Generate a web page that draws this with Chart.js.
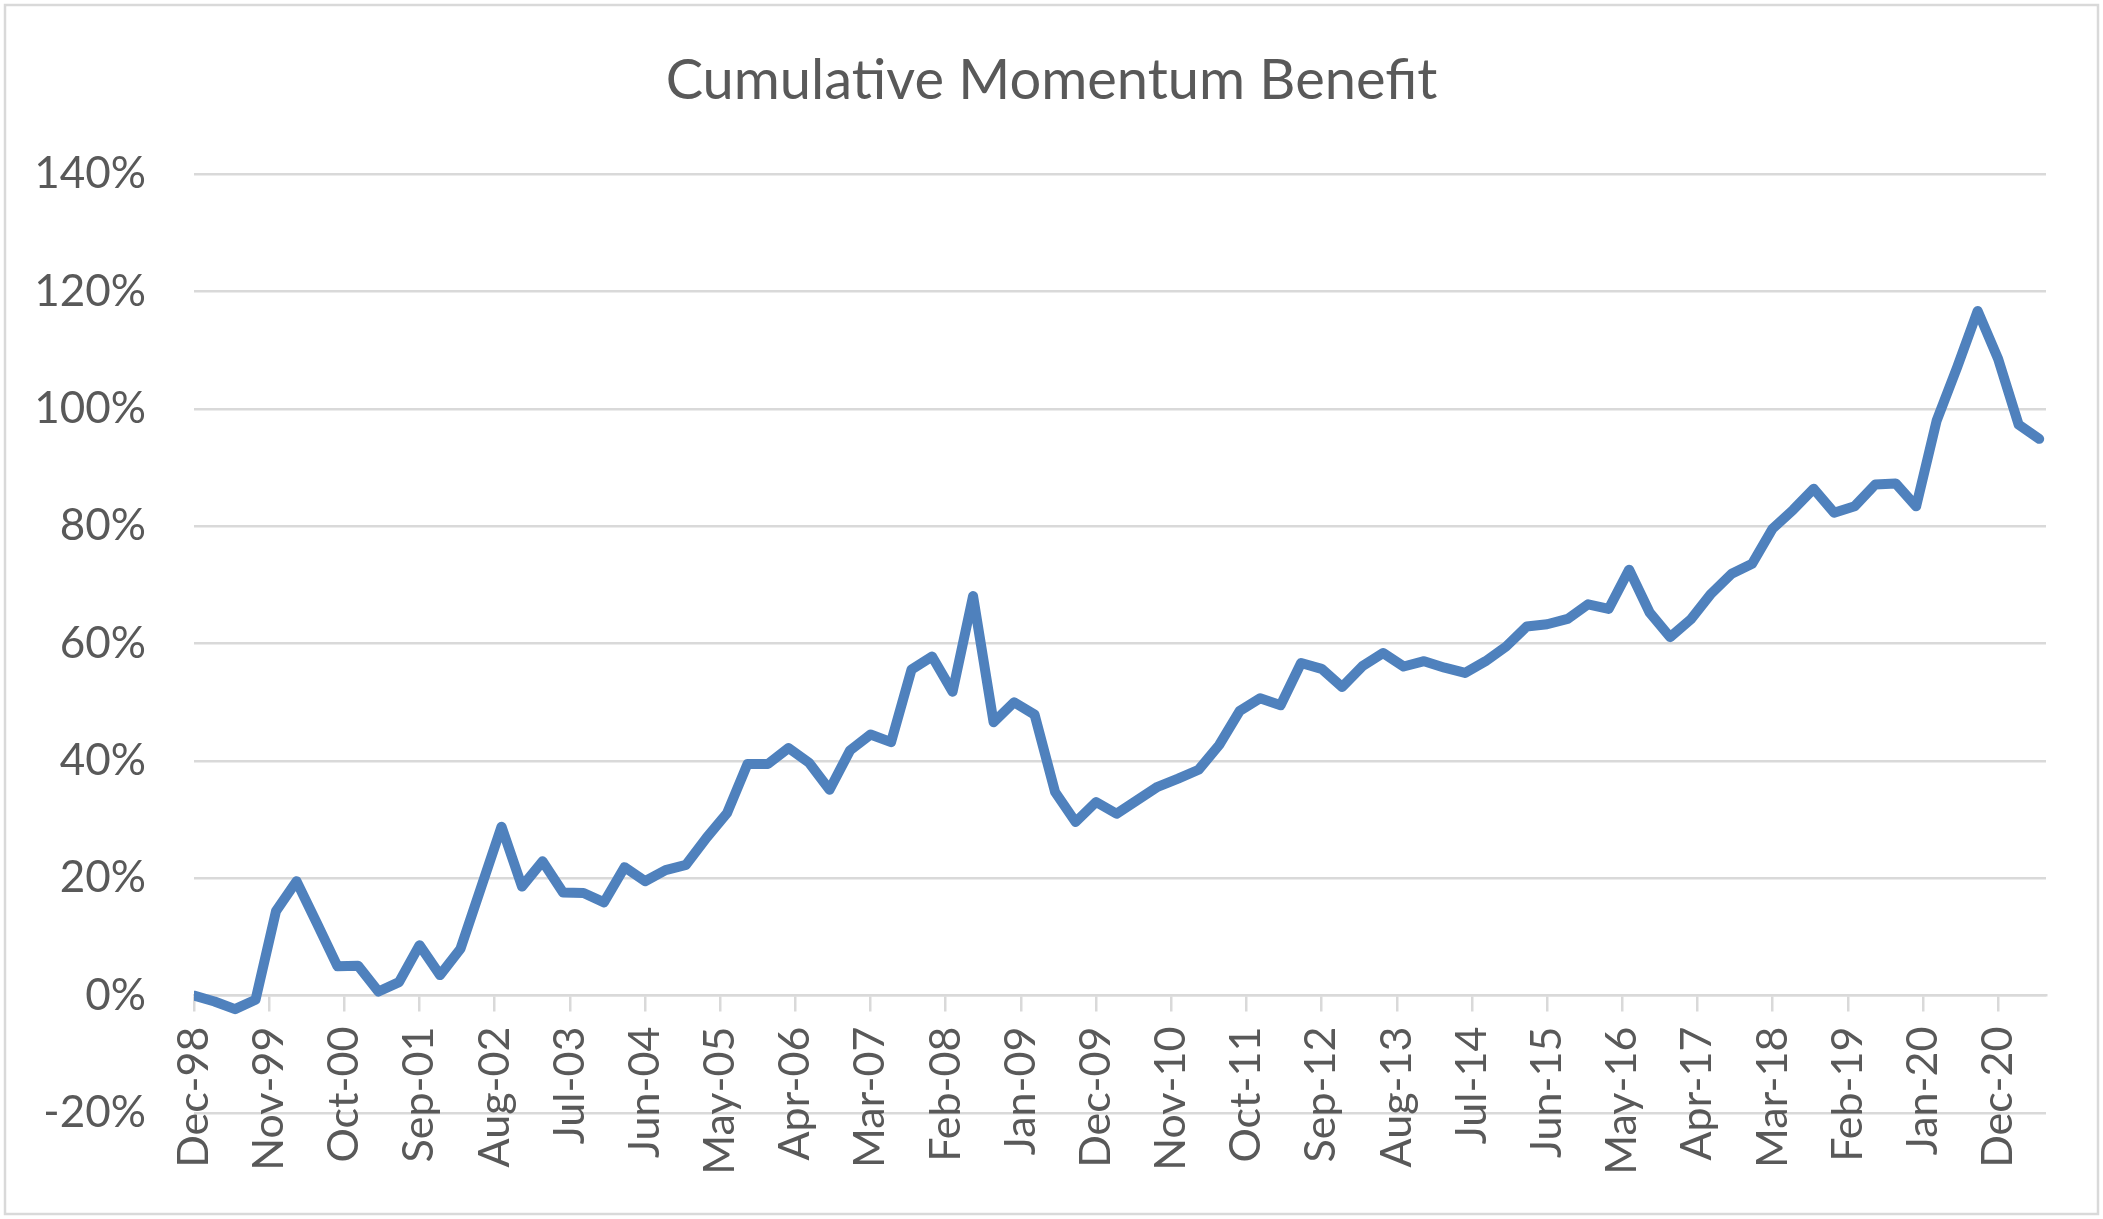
<!DOCTYPE html>
<html>
<head>
<meta charset="utf-8">
<title>Cumulative Momentum Benefit</title>
<script src="https://cdn.jsdelivr.net/npm/chart.js@4.4.1/dist/chart.umd.min.js"></script>
<style>
  html, body { margin: 0; padding: 0; background: #ffffff; overflow: hidden; }
  canvas { display: block; }
</style>
</head>
<body>
<canvas id="momentumChart" width="2103" height="1219"></canvas>
<script>
// --------------------- Data ---------------------
// quarter-end dates of each observation
const quarters = [
  'Dec-98',
  'Mar-99', 'Jun-99', 'Sep-99', 'Dec-99',
  'Mar-00', 'Jun-00', 'Sep-00', 'Dec-00',
  'Mar-01', 'Jun-01', 'Sep-01', 'Dec-01',
  'Mar-02', 'Jun-02', 'Sep-02', 'Dec-02',
  'Mar-03', 'Jun-03', 'Sep-03', 'Dec-03',
  'Mar-04', 'Jun-04', 'Sep-04', 'Dec-04',
  'Mar-05', 'Jun-05', 'Sep-05', 'Dec-05',
  'Mar-06', 'Jun-06', 'Sep-06', 'Dec-06',
  'Mar-07', 'Jun-07', 'Sep-07', 'Dec-07',
  'Mar-08', 'Jun-08', 'Sep-08', 'Dec-08',
  'Mar-09', 'Jun-09', 'Sep-09', 'Dec-09',
  'Mar-10', 'Jun-10', 'Sep-10', 'Dec-10',
  'Mar-11', 'Jun-11', 'Sep-11', 'Dec-11',
  'Mar-12', 'Jun-12', 'Sep-12', 'Dec-12',
  'Mar-13', 'Jun-13', 'Sep-13', 'Dec-13',
  'Mar-14', 'Jun-14', 'Sep-14', 'Dec-14',
  'Mar-15', 'Jun-15', 'Sep-15', 'Dec-15',
  'Mar-16', 'Jun-16', 'Sep-16', 'Dec-16',
  'Mar-17', 'Jun-17', 'Sep-17', 'Dec-17',
  'Mar-18', 'Jun-18', 'Sep-18', 'Dec-18',
  'Mar-19', 'Jun-19', 'Sep-19', 'Dec-19',
  'Mar-20', 'Jun-20', 'Sep-20', 'Dec-20',
  'Mar-21', 'Jun-21'
];

// cumulative momentum benefit, in percent
const momentum = [
  0.0,
  -1.0, -2.3, -0.7, 14.4,
  19.5, 12.3, 5.0, 5.1,
  0.7, 2.3, 8.6, 3.5,
  8.0, 18.4, 28.8, 18.6,
  22.9, 17.6, 17.5, 15.9,
  21.9, 19.5, 21.4, 22.3,
  26.9, 31.1, 39.5, 39.5,
  42.2, 39.7, 35.1, 41.8,
  44.5, 43.2, 55.6, 57.8,
  51.8, 68.1, 46.6, 50.0,
  47.9, 34.7, 29.6, 33.0,
  31.0, 33.3, 35.6, 37.0,
  38.5, 42.7, 48.5, 50.7,
  49.5, 56.7, 55.7, 52.6,
  56.2, 58.4, 56.1, 57.0,
  55.9, 55.0, 57.0, 59.5,
  62.9, 63.3, 64.2, 66.7,
  65.9, 72.6, 65.3, 61.1,
  64.1, 68.5, 71.9, 73.6,
  79.6, 82.8, 86.4, 82.3,
  83.4, 87.1, 87.3, 83.4,
  98.0, 107.1, 116.7, 108.5,
  97.3, 94.9
];

// date labels shown on the horizontal axis (every 11 months)
const tickLabels = [
  'Dec-98', 'Nov-99', 'Oct-00', 'Sep-01', 'Aug-02', 'Jul-03', 'Jun-04',
  'May-05', 'Apr-06', 'Mar-07', 'Feb-08', 'Jan-09', 'Dec-09', 'Nov-10',
  'Oct-11', 'Sep-12', 'Aug-13', 'Jul-14', 'Jun-15', 'May-16', 'Apr-17',
  'Mar-18', 'Feb-19', 'Jan-20', 'Dec-20'
];

// --------------------- Helpers ---------------------
const MONTHS = ['Jan', 'Feb', 'Mar', 'Apr', 'May', 'Jun', 'Jul', 'Aug', 'Sep', 'Oct', 'Nov', 'Dec'];

// months elapsed since Dec-98, so the x axis behaves like a date axis
function monthsFrom(label) {
  const [mon, yy] = label.split('-');
  const n = Number(yy);
  const year = n > 50 ? 1900 + n : 2000 + n;
  return (year - 1998) * 12 + MONTHS.indexOf(mon) - 11;
}

const GRID = '#d9d9d9';
const TEXT = '#595959';

// white background + thin frame round the whole chart
const framePlugin = {
  id: 'frame',
  beforeDraw(chart) {
    const ctx = chart.ctx;
    ctx.save();
    ctx.fillStyle = '#ffffff';
    ctx.fillRect(0, 0, chart.width, chart.height);
    ctx.strokeStyle = GRID;
    ctx.lineWidth = 2.5;
    ctx.strokeRect(5, 5, chart.width - 10, chart.height - 10);
    ctx.restore();
  }
};

// --------------------- Chart ---------------------
const ctx = document.getElementById('momentumChart').getContext('2d');

new Chart(ctx, {
  type: 'line',
  data: {
    datasets: [{
      label: 'Cumulative Momentum Benefit',
      data: momentum.map((v, i) => ({ x: monthsFrom(quarters[i]), y: v })),
      borderColor: '#4f81bd',
      borderWidth: 10,
      borderJoinStyle: 'round',
      borderCapStyle: 'round',
      pointRadius: 0,
      tension: 0,
      fill: false
    }]
  },
  options: {
    responsive: false,
    animation: false,
    devicePixelRatio: 1,
    layout: { padding: { left: 0, right: 0, top: 0, bottom: 106 } },
    plugins: {
      legend: { display: false },
      tooltip: { enabled: false },
      title: {
        display: true,
        text: 'Cumulative Momentum Benefit',
        color: TEXT,
        font: { family: 'Lato', size: 56, weight: 'normal', lineHeight: 1.2 },
        padding: { top: 47, bottom: 60 }
      }
    },
    scales: {
      x: {
        type: 'linear',
        position: { y: 0 },
        min: 0,
        max: 271,
        afterBuildTicks: scale => {
          scale.ticks = tickLabels.map(l => ({ value: monthsFrom(l) }));
        },
        ticks: {
          autoSkip: false,
          minRotation: 90,
          maxRotation: 90,
          padding: 16,
          color: TEXT,
          font: { family: 'Lato', size: 43 },
          callback: (v, i) => tickLabels[i]
        },
        grid: {
          drawOnChartArea: false,
          drawTicks: true,
          tickLength: 15,
          color: GRID,
          lineWidth: 2.5
        },
        border: { display: true, color: GRID, width: 2.5 }
      },
      y: {
        min: -20,
        max: 140,
        afterFit: scale => { scale.width = 194; },
        ticks: {
          stepSize: 20,
          padding: 48,
          color: TEXT,
          font: { family: 'Lato', size: 44 },
          callback: v => v + '%'
        },
        grid: { color: GRID, lineWidth: 2.5, drawTicks: false },
        border: { display: false }
      },
      // empty right-hand margin, keeps the title centred on the full width
      yRight: {
        position: 'right',
        min: -20,
        max: 140,
        afterFit: scale => { scale.width = 57; },
        ticks: { display: false },
        grid: { display: false },
        border: { display: false }
      }
    }
  },
  plugins: [framePlugin]
});
</script>
</body>
</html>
